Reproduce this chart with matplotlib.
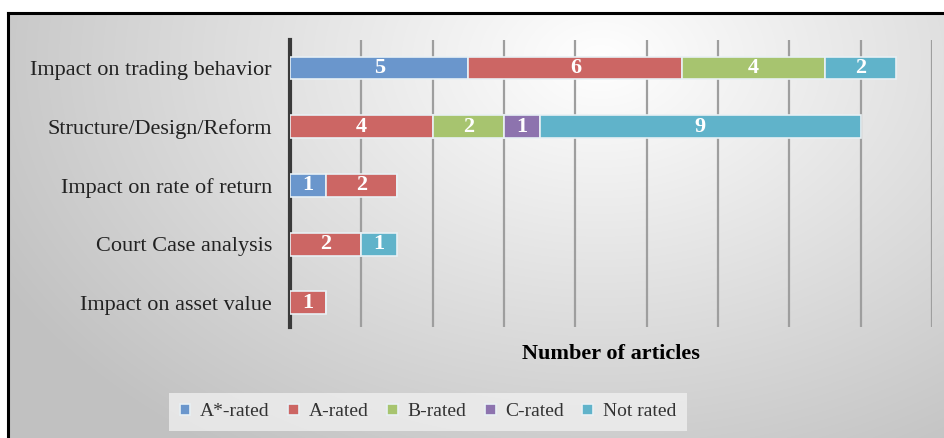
import numpy as np
import matplotlib.pyplot as plt
from matplotlib.lines import Line2D

plt.rcParams['font.family'] = ['Liberation Serif', 'DejaVu Serif']

# Dados: número de artigos por tema e classificação
temas = ['Impact on trading behavior', 'Structure/Design/Reform',
         'Impact on rate of return', 'Court Case analysis', 'Impact on asset value']
a_star = [5, 0, 1, 0, 0]
a_rated = [6, 4, 2, 2, 1]
b_rated = [4, 2, 0, 0, 0]
c_rated = [0, 1, 0, 0, 0]
not_rated = [2, 9, 0, 1, 0]

series = [('A*-rated', a_star, '#6A96CC'),
          ('A-rated', a_rated, '#CC6664'),
          ('B-rated', b_rated, '#A7C46F'),
          ('C-rated', c_rated, '#8D73AE'),
          ('Not rated', not_rated, '#60B3CA')]

W, H = 945, 438
fig = plt.figure(figsize=(W / 100, H / 100), dpi=100)

# fundo com gradiente radial (cinza nas bordas)
bg = fig.add_axes([0, 0, 1, 1])
yy, xx = np.mgrid[0:H, 0:W]
d = np.sqrt(((xx - 600) / 620.0) ** 2 + ((yy - 60) / 430.0) ** 2)
shade = np.clip(1.0 - 0.22 * d, 0.76, 1.0)
img = np.dstack([shade, shade, shade])
img[:12, :, :] = 1.0
img[:, :7, :] = 1.0
bg.imshow(img, extent=[0, W, H, 0], aspect='auto', interpolation='bilinear')
bg.set_xlim(0, W)
bg.set_ylim(H, 0)
bg.axis('off')

# moldura (só topo e lateral esquerda ficam visíveis)
fig.add_artist(Line2D([8 / W, 1], [1 - 13 / H, 1 - 13 / H], color='black', lw=2.2))
fig.add_artist(Line2D([8 / W, 8 / W], [0, 1 - 13 / H], color='black', lw=2.2))

ax = fig.add_axes([290 / W, 1 - 327 / H, (932 - 290) / W, (327 - 40) / H])
ax.patch.set_alpha(0)

y = np.arange(len(temas))
left = np.zeros(len(temas))
for nome, vals, cor in series:
    vals = np.array(vals, dtype=float)
    bars = ax.barh(y, vals, left=left, height=0.39, color=cor,
                   edgecolor='#E8F0F4', linewidth=1.2, label=nome, zorder=3)
    for b, v in zip(bars, vals):
        if v > 0:
            ax.text(b.get_x() + b.get_width() / 2, b.get_y() + b.get_height() / 2,
                    f'{int(v)}', ha='center', va='center', color='white',
                    fontsize=16, fontweight='bold', zorder=4)
    left += vals

ax.set_xlim(0, 18)
ax.set_ylim(4.41, -0.477)
ax.set_xticks(np.arange(2, 19, 2))
ax.set_xticklabels([])
ax.tick_params(axis='x', length=0)
ax.grid(axis='x', color='#9E9E9E', linewidth=1.6, zorder=1)
ax.set_yticks(y)
ax.set_yticklabels(temas, fontsize=16, color='#222222')
ax.tick_params(axis='y', length=0, pad=13)
for s in ['top', 'right', 'bottom']:
    ax.spines[s].set_visible(False)
ax.spines['left'].set_color('#3A3A3A')
ax.spines['left'].set_linewidth(3)
ax.set_xlabel('Number of articles', fontsize=16, fontweight='bold', labelpad=9)

handles, labels = ax.get_legend_handles_labels()
leg = fig.legend(handles, labels, loc='center', bbox_to_anchor=(428 / W, 1 - 412 / H),
                 ncol=5, frameon=True, fontsize=14, handlelength=0.55, handleheight=0.55,
                 handletextpad=0.5, columnspacing=0.95, borderpad=0.55, fancybox=False)
leg.get_frame().set_facecolor('#EFEFEF')
leg.get_frame().set_edgecolor('none')
leg.get_frame().set_alpha(0.8)
for t in leg.get_texts():
    t.set_color('#333333')

fig.savefig('out.png', dpi=100)
